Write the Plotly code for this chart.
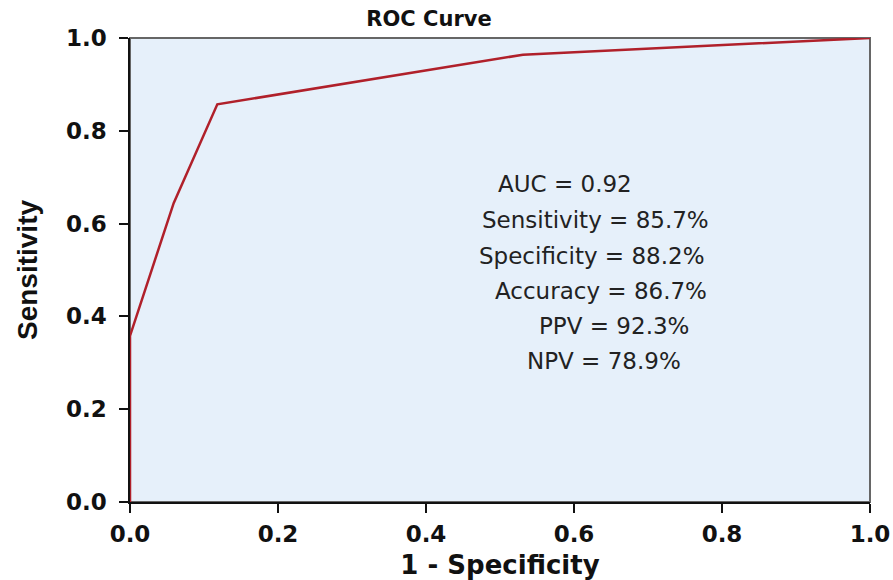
import plotly.graph_objects as go

fpr = [0.0, 0.0, 0.059, 0.118, 0.531, 1.0]
tpr = [0.0, 0.358, 0.644, 0.857, 0.964, 1.0]

stat_labels = ["AUC = 0.92", "Sensitivity = 85.7%", "Specificity = 88.2%",
               "Accuracy = 86.7%", "PPV = 92.3%", "NPV = 78.9%"]
stat_x = [0.588, 0.629, 0.624, 0.636, 0.654, 0.641]
stat_y = [0.685, 0.608, 0.530, 0.455, 0.379, 0.304]

tick_vals = [0.0, 0.2, 0.4, 0.6, 0.8, 1.0]
tick_text = ["0.0", "0.2", "0.4", "0.6", "0.8", "1.0"]

fig = go.Figure()
fig.add_trace(go.Scatter(x=fpr, y=tpr, mode="lines",
                         line=dict(color="#B0202A", width=2.5),
                         showlegend=False, hoverinfo="skip", cliponaxis=False))

for t, x, y in zip(stat_labels, stat_x, stat_y):
    fig.add_annotation(x=x, y=y, xref="x", yref="y", text=t, showarrow=False,
                       xanchor="center", yanchor="middle",
                       font=dict(family="DejaVu Sans", size=23, color="#222"))

fig.add_shape(type="rect", xref="paper", yref="paper", x0=0, y0=0, x1=1, y1=1,
              line=dict(color="#666", width=2), layer="below")

axis_common = dict(range=[0, 1], tickvals=tick_vals, ticktext=tick_text,
                   ticks="outside", ticklen=9, tickwidth=1.5, tickcolor="#111",
                   showgrid=False, zeroline=False, showline=True,
                   linecolor="#111", linewidth=1.5, automargin=False,
                   tickfont=dict(family="DejaVu Sans", size=23, color="#111",
                                 weight="bold"))

fig.update_layout(
    width=893, height=580,
    margin=dict(l=130, r=23, t=38, b=78),
    paper_bgcolor="white",
    plot_bgcolor="#E6F0FA",
    title=dict(text="ROC Curve", x=429/893, xanchor="center",
               y=1 - 19/580, yanchor="middle",
               font=dict(family="DejaVu Sans", size=21, color="#111",
                         weight="bold")),
    xaxis=dict(**axis_common, ticklabelstandoff=2,
               title=dict(text="1 - Specificity", standoff=18,
                          font=dict(family="DejaVu Sans", size=26, color="#111",
                                    weight="bold"))),
    yaxis=dict(**axis_common, ticklabelstandoff=8,
               title=dict(text="Sensitivity", standoff=20,
                          font=dict(family="Liberation Sans Narrow, Liberation Sans",
                                    size=28, color="#111", weight="bold"))),
)

fig.write_html("out.html")
